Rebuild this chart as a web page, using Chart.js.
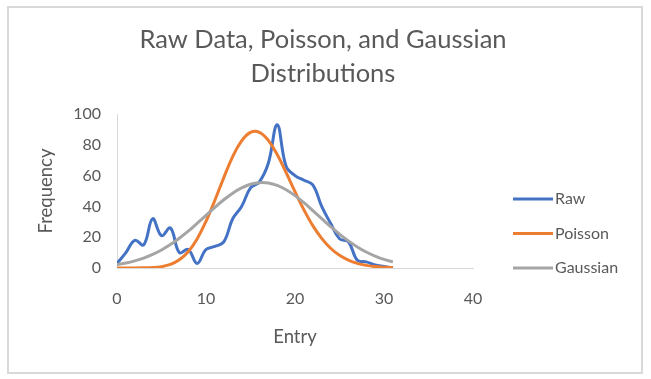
<!DOCTYPE html>
<html>
<head>
<meta charset="utf-8">
<script src="https://cdn.jsdelivr.net/npm/chart.js@4"></script>
<style>
    html, body { margin: 0; padding: 0; background: #fff; }
    #wrap { position: relative; width: 651px; height: 379px; }
    #frame { position: absolute; left: 7px; top: 6px; width: 632px; height: 364px; border: 2px solid #d9d9d9; pointer-events: none; }
    canvas { position: absolute; left: 0; top: 0; }
</style>
</head>
<body>
<div id="wrap">
    <canvas id="chart" width="651" height="379"></canvas>
    <div id="frame"></div>
</div>
<script>
const FONT = 'Lato, "Open Sans", sans-serif';
const TEXT = '#595959';

const titleLines = ['Raw Data, Poisson, and Gaussian', 'Distributions'];
const xTitle = 'Entry';
const yTitle = 'Frequency';

const entries = [0, 1, 2, 3, 4, 5, 6, 7, 8, 9, 10, 11, 12, 13, 14, 15,
    16, 17, 18, 19, 20, 21, 22, 23, 24, 25, 26, 27, 28, 29, 30, 31];
const raw = [3, 10, 18, 15, 32, 21, 26, 10, 12, 3, 12, 14, 17, 32, 40, 52,
    56, 68, 93, 66, 60, 57, 54, 40, 29, 19, 17, 5, 4, 2, 1, 0];
const poisson = [0, 0, 0, 0.1, 0.3, 0.9, 2.3, 5.3, 10.6, 18.9, 30.3, 44, 58.7, 72.3, 82.6, 88.1,
    88.1, 82.9, 73.7, 62, 49.6, 37.8, 27.5, 19.2, 12.8, 8.2, 5.1, 3, 1.7, 0.9, 0.5, 0.3];
const gaussian = [2.2, 3.2, 4.6, 6.4, 8.8, 11.7, 15.2, 19.3, 23.9, 29, 34.2, 39.4, 44.3, 48.6, 52, 54.4,
    55.4, 55.2, 53.6, 50.8, 47, 42.4, 37.3, 32.1, 26.9, 22, 17.6, 13.7, 10.4, 7.7, 5.6, 4];

const seriesNames = ['Raw', 'Poisson', 'Gaussian'];
const seriesColors = ['#4472c4', '#ed7d31', '#a5a5a5'];
const xTicks = [0, 10, 20, 30, 40];
const yTicks = [0, 20, 40, 60, 80, 100];

const toPoints = (ys) => entries.map((x, i) => ({ x: x, y: ys[i] }));

// titles, axis titles and the legend, drawn at Excel-like spots
const decorations = {
    id: 'decorations',
    afterDraw(chart) {
        const ctx = chart.ctx;
        const area = chart.chartArea;
        ctx.save();
        ctx.fillStyle = TEXT;
        ctx.textAlign = 'center';
        ctx.textBaseline = 'middle';
        ctx.font = `25.5px ${FONT}`;
        ctx.fillText(titleLines[0], 323, 40);
        ctx.fillText(titleLines[1], 323, 74);

        ctx.font = `18.5px ${FONT}`;
        ctx.fillText(xTitle, 295, 337);
        ctx.translate(46, (area.top + area.bottom) / 2);
        ctx.rotate(-Math.PI / 2);
        ctx.fillText(yTitle, 0, 0);
        ctx.restore();

        // legend
        ctx.save();
        ctx.font = `16px ${FONT}`;
        ctx.textAlign = 'left';
        ctx.textBaseline = 'middle';
        ctx.lineWidth = 3;
        seriesNames.forEach((name, i) => {
            const y = 199 + i * 34.5;
            ctx.strokeStyle = seriesColors[i];
            ctx.beginPath();
            ctx.moveTo(513, y);
            ctx.lineTo(553, y);
            ctx.stroke();
            ctx.fillStyle = TEXT;
            ctx.fillText(name, 555, y);
        });
        ctx.restore();
    }
};

const datasets = [raw, poisson, gaussian].map((ys, i) => ({
    label: seriesNames[i],
    data: toPoints(ys),
    borderColor: seriesColors[i],
    backgroundColor: seriesColors[i],
    borderWidth: 3,
    pointRadius: 0,
    tension: 0.4,
    fill: false,
    order: 3 - i,
}));

new Chart(document.getElementById('chart').getContext('2d'), {
    type: 'line',
    data: { datasets: datasets },
    options: {
        responsive: false,
        animation: false,
        maintainAspectRatio: false,
        layout: { padding: { top: 114, right: 178, left: 0, bottom: 0 } },
        plugins: {
            legend: { display: false },
            title: { display: false },
            tooltip: { enabled: false },
        },
        scales: {
            x: {
                type: 'linear',
                min: 0,
                max: 40,
                afterFit: (scale) => { scale.height = 111; },
                afterBuildTicks: (scale) => { scale.ticks = xTicks.map(v => ({ value: v })); },
                grid: { display: false, drawTicks: false },
                border: { display: true, color: '#d9d9d9', width: 1 },
                ticks: { color: TEXT, font: { family: FONT, size: 16 }, padding: 21 },
            },
            y: {
                min: 0,
                max: 100,
                afterFit: (scale) => { scale.width = 117; },
                afterBuildTicks: (scale) => { scale.ticks = yTicks.map(v => ({ value: v })); },
                grid: { display: false, drawTicks: false },
                border: { display: true, color: '#d9d9d9', width: 1 },
                ticks: { color: TEXT, font: { family: FONT, size: 16 }, padding: 16 },
            },
        },
    },
    plugins: [decorations],
});
</script>
</body>
</html>
